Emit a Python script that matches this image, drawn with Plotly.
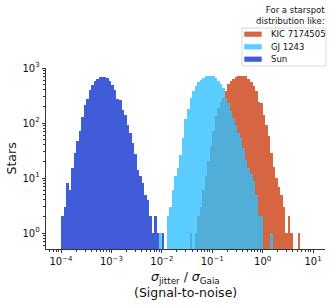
import numpy as np
import plotly.graph_objects as go

# ---- data (histogram counts per logarithmic bin; bins are 0.05 dex wide from 1e-4) ----
LOG_BIN_START = -4.0
LOG_BIN_WIDTH = 0.05

series_names = ["KIC 7174505", "GJ 1243", "Sun"]

kic_first_bin = 51
kic_counts = [1, 0, 1, 2, 3, 6, 11, 20, 38, 71, 135, 187, 246, 284, 377, 519, 570, 630,
              686, 706, 720, 720, 706, 630, 556, 464, 377, 246, 230, 141, 93, 57, 28, 16,
              10, 7, 5, 3, 1, 2, 1, 0, 0, 1]

gj_first_bin = 39
gj_counts = [1, 0, 0, 2, 3, 6, 11, 15, 26, 53, 120, 180, 284, 377, 464, 547, 613, 657,
             706, 720, 720, 706, 657, 590, 519, 433, 284, 230, 163, 123, 93, 66, 53, 35,
             21, 15, 12, 9, 5, 2, 2, 0, 0, 0, 1]

sun_first_bin = 0
sun_counts = [2, 3, 8, 6, 15, 29, 48, 71, 128, 209, 277, 393, 484, 572, 631, 686, 700,
              693, 650, 572, 498, 403, 277, 267, 175, 141, 93, 66, 43, 27, 14, 11, 8, 5,
              4, 2, 1, 2, 1, 0, 1]

x_tick_exponents = [-4, -3, -2, -1, 0, 1]
y_tick_values = [1, 10, 100, 1000]

colors = {"KIC 7174505": "rgb(213,102,65)",
          "GJ 1243": "rgb(49,193,254)",
          "Sun": "rgb(65,92,216)"}
opacities = {"KIC 7174505": 1.0, "GJ 1243": 0.8, "Sun": 1.0}

series = {"KIC 7174505": (kic_first_bin, kic_counts),
          "GJ 1243": (gj_first_bin, gj_counts),
          "Sun": (sun_first_bin, sun_counts)}

FONT = "DejaVu Sans"
W, H = 335, 305
ML, MR, MT, MB = 46, 10, 68, 56
PW, PH = W - ML - MR, H - MT - MB


def px(xpix):
    return (xpix - ML) / PW


def py(ypix):
    return (H - MB - ypix) / PH


fig = go.Figure()
for name in series_names:
    first, counts = series[name]
    idx = np.arange(len(counts)) + first
    centers = LOG_BIN_START + LOG_BIN_WIDTH * (idx + 0.5)
    yvals = [c if c > 0 else None for c in counts]
    fig.add_trace(go.Bar(
        x=centers, y=yvals, width=LOG_BIN_WIDTH, name=name,
        marker=dict(color=colors[name], line=dict(width=0)),
        opacity=opacities[name], showlegend=False,
    ))

x_minor = [np.log10(k) + n for n in range(-5, 2) for k in range(2, 10)]
x_minor = [v for v in x_minor if -4.298 < v < 1.238]
y_minor = [k * 10 ** n for n in range(-1, 4) for k in range(2, 10)]

axis_col = "#333333"
text_col = "#111111"

# ---- custom legend (box, swatches, labels) ----
shapes = [dict(type="rect", xref="paper", yref="paper",
               x0=px(242), x1=px(326), y0=py(66), y1=py(28),
               line=dict(color="#d0d0d0", width=0.8), fillcolor="white", layer="above")]
annotations = []
legend_rows = [34.2, 46.8, 59.2]
for name, yc in zip(series_names, legend_rows):
    op = opacities[name]
    shapes.append(dict(type="rect", xref="paper", yref="paper",
                       x0=px(244.3), x1=px(261.7), y0=py(yc + 2.6), y1=py(yc - 2.6),
                       line=dict(width=0), fillcolor=colors[name], opacity=op,
                       layer="above"))
    annotations.append(dict(text=name, xref="paper", yref="paper",
                            x=px(268.5), y=py(yc), xanchor="left", yanchor="middle",
                            showarrow=False, font=dict(size=8.5, family=FONT, color=text_col)))

annotations.append(dict(
    text="For a starspot<br>distribution like:",
    xref="paper", yref="paper", x=px(326.5), y=py(2.5),
    xanchor="right", yanchor="top", align="right", showarrow=False,
    font=dict(size=8.5, family=FONT, color=text_col),
))
# axis titles
annotations.append(dict(
    text="Stars", xref="paper", yref="paper", x=px(11), y=0.5,
    xanchor="center", yanchor="middle", textangle=-90, showarrow=False,
    font=dict(size=12.5, family=FONT, color=text_col)))
annotations.append(dict(
    text="<i>\u03c3</i><sub>jitter</sub> / <i>\u03c3</i><sub>Gaia</sub>",
    xref="paper", yref="paper", x=0.5, y=py(277),
    xanchor="center", yanchor="middle", showarrow=False,
    font=dict(size=12.5, family=FONT, color=text_col)))
annotations.append(dict(
    text="(Signal-to-noise)",
    xref="paper", yref="paper", x=0.5, y=py(292.5),
    xanchor="center", yanchor="middle", showarrow=False,
    font=dict(size=12.5, family=FONT, color=text_col)))

fig.update_layout(
    width=W, height=H,
    margin=dict(l=ML, r=MR, t=MT, b=MB),
    paper_bgcolor="white", plot_bgcolor="white",
    barmode="overlay", bargap=0,
    font=dict(family=FONT, size=10, color=text_col),
    showlegend=False,
    hovermode=False,
    xaxis=dict(
        range=[-4.298, 1.238], automargin=False,
        tickvals=x_tick_exponents,
        ticktext=["10<sup>\u2212%d</sup>" % (-e) if e < 0 else "10<sup>%d</sup>" % e
                  for e in x_tick_exponents],
        ticks="outside", ticklen=3.5, tickwidth=0.8, tickcolor=axis_col,
        showline=True, linecolor=axis_col, linewidth=0.8,
        showgrid=False, zeroline=False,
        tickfont=dict(size=10),
        minor=dict(tickvals=x_minor, ticks="outside", ticklen=2, tickwidth=0.6,
                   tickcolor=axis_col),
    ),
    yaxis=dict(
        type="log", range=[-0.29, 3.0], automargin=False,
        tickvals=y_tick_values,
        ticktext=["10<sup>%d</sup>" % int(round(np.log10(v))) for v in y_tick_values],
        ticks="outside", ticklen=3.5, tickwidth=0.8, tickcolor=axis_col,
        showline=True, linecolor=axis_col, linewidth=0.8,
        showgrid=False, zeroline=False,
        tickfont=dict(size=10),
        minor=dict(tickvals=y_minor, ticks="outside", ticklen=2, tickwidth=0.6,
                   tickcolor=axis_col),
    ),
    shapes=shapes,
    annotations=annotations,
)

fig.write_html("out.html",
               config={"displayModeBar": False},
               post_script="document.body.style.margin='0px';document.body.style.padding='0px';")
